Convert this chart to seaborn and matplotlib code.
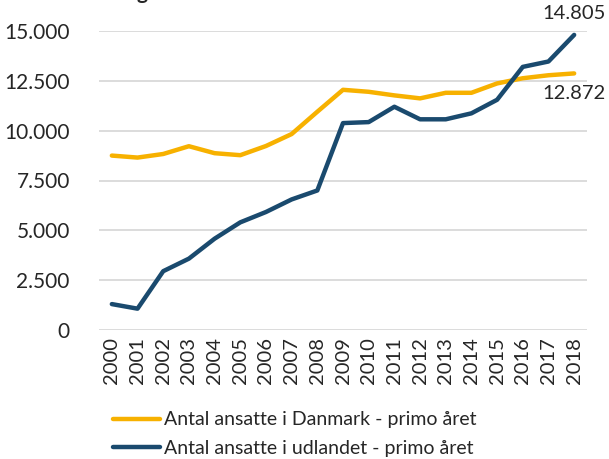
import pandas as pd
import matplotlib.pyplot as plt
import seaborn as sns

# Data
years = [str(y) for y in range(2000, 2019)]
danmark = [8750, 8650, 8830, 9220, 8870, 8770, 9230, 9830, 10950, 12050,
           11950, 11770, 11620, 11900, 11900, 12370, 12630, 12780, 12872]
udlandet = [1300, 1070, 2950, 3580, 4580, 5400, 5920, 6550, 7000, 10380,
            10430, 11200, 10570, 10570, 10870, 11550, 13200, 13470, 14805]
labels = ['Antal ansatte i Danmark - primo året',
          'Antal ansatte i udlandet - primo året']
colors = ['#F7B100', '#1A4A6E']

sns.set_style('white')
plt.rcParams['font.family'] = ['Lato', 'DejaVu Sans']

df = pd.DataFrame({'pos': range(len(years)), 'year': years,
                   labels[0]: danmark, labels[1]: udlandet})
long_df = df.melt(id_vars=['pos', 'year'], value_vars=labels,
                  var_name='serie', value_name='antal')

fig = plt.figure(figsize=(6.09, 4.59), dpi=100)
ax = fig.add_axes([99 / 609, 1 - 330 / 459, 488 / 609, 299 / 459])

sns.lineplot(data=long_df, x='pos', y='antal', hue='serie', palette=colors,
             linewidth=3.2, ax=ax, legend=False, clip_on=False,
             solid_capstyle='round')

ax.set_xlim(-0.5, len(years) - 0.5)
ax.set_ylim(0, 15000)
ax.set_yticks(range(0, 15001, 2500))
ax.set_yticklabels([f'{v:,}'.replace(',', '.') for v in range(0, 15001, 2500)],
                   fontsize=15)
ax.set_xticks(range(len(years)))
ax.set_xticklabels(years, rotation=90, fontsize=14.5)
ax.tick_params(axis='both', length=0, pad=5)
ax.tick_params(axis='y', pad=21)
ax.grid(axis='y', color='#D9D9D9', linewidth=1.3)
ax.set_axisbelow(True)
for s in ax.spines.values():
    s.set_visible(False)
ax.set_xlabel('')
ax.set_ylabel('')

# End labels
ax.annotate(f'{udlandet[-1]:,}'.replace(',', '.'), (len(years) - 1, udlandet[-1]),
            xytext=(0, 9), textcoords='offset points', ha='center',
            va='bottom', fontsize=14.5, annotation_clip=False)
ax.annotate(f'{danmark[-1]:,}'.replace(',', '.'), (len(years) - 1, danmark[-1]),
            xytext=(0, -8), textcoords='offset points', ha='center',
            va='top', fontsize=14.5, annotation_clip=False)

# Title, cut off at the top edge as in the reference
fig.text(120 / 609, 1 + 1 / 459, 'Figur 6: Antal ansatte i koncernen',
         ha='left', va='baseline', fontsize=15, fontweight='bold')

handles = [plt.Line2D([], [], color=c, linewidth=3.2) for c in colors]
fig.legend(handles, labels, loc='center', bbox_to_anchor=(0.484, 1 - 434 / 459),
           frameon=False, fontsize=14, handlelength=2.4, handletextpad=0.2,
           labelspacing=0.58, borderpad=0)

fig.savefig('out.png', dpi=100)
